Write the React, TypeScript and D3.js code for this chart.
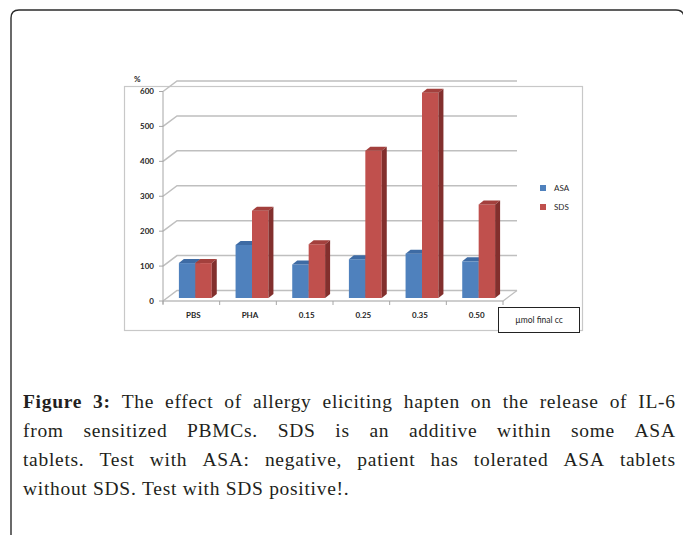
import React from 'react';
import * as d3 from 'd3';

const categories = ['PBS', 'PHA', '0.15', '0.25', '0.35', '0.50'];
const seriesNames = ['ASA', 'SDS'];
const asaValues = [100, 152, 96, 111, 127, 105];
const sdsValues = [100, 250, 154, 422, 588, 268];
const yTicks = [0, 100, 200, 300, 400, 500, 600];
const xUnitLabel = 'µmol final cc';
const yUnitLabel = '%';

const captionLines: { text: string; bold?: boolean }[][] = [
  [{ text: 'Figure 3:', bold: true }, { text: 'The effect of allergy eliciting hapten on the release of IL-6' }],
  [{ text: 'from sensitized PBMCs. SDS is an additive within some ASA' }],
  [{ text: 'tablets. Test with ASA: negative, patient has tolerated ASA tablets' }],
  [{ text: 'without SDS. Test with SDS positive!.' }],
];

const W = 683;
const H = 535;
const SERIF = "'Liberation Serif', 'DejaVu Serif', serif";
const SANS = "Lato, 'Liberation Sans', Arial, sans-serif";

const colors = {
  ASA: { front: '#4F81BD', top: '#3E6BA4', side: '#30537F' },
  SDS: { front: '#C0504D', top: '#A3403D', side: '#822F2D' },
} as Record<string, { front: string; top: string; side: string }>;

let measureCtx: CanvasRenderingContext2D | null = null;
function measure(text: string, font: string): number {
  if (!measureCtx) {
    const c = document.createElement('canvas');
    measureCtx = c.getContext('2d');
  }
  if (!measureCtx) return text.length * 8;
  measureCtx.font = font;
  return measureCtx.measureText(text).width;
}

function Caption() {
  const fontSize = 19.5;
  const ls = 0.7;
  const left = 23;
  const right = 675;
  const baselines = [408, 437, 466, 495];
  return (
    <g fontFamily={SERIF} fontSize={fontSize} fill="#231f20" letterSpacing={ls}>
      {captionLines.map((segs, li) => {
        const words: { w: string; bold: boolean }[] = [];
        segs.forEach((s) => s.text.split(' ').forEach((w) => words.push({ w, bold: !!s.bold })));
        const widths = words.map(
          (wd) => measure(wd.w, `${wd.bold ? 'bold ' : ''}${fontSize}px ${SERIF}`) + wd.w.length * ls
        );
        const total = d3.sum(widths);
        const justify = li < captionLines.length - 1;
        const spaceW = measure(' ', `${fontSize}px ${SERIF}`) + ls;
        const gap = justify ? (right - left - total + ls) / (words.length - 1) : spaceW;
        let x = left;
        const xs: number[] = [];
        widths.forEach((w) => {
          xs.push(x);
          x += w + gap;
        });
        return (
          <text key={li} y={baselines[li]}>
            {words.map((wd, i) => (
              <tspan key={i} x={xs[i]} fontWeight={wd.bold ? 'bold' : 'normal'}>
                {wd.w}
              </tspan>
            ))}
          </text>
        );
      })}
    </g>
  );
}

export default function App() {
  const frontX0 = 163;
  const frontX1 = 503;
  const wallDx = 14;
  const wallDy = -10.5;
  const barOffX = 4;
  const barOffY = -3;
  const barDx = 5;
  const barDy = -4;

  const x = d3.scaleBand<string>().domain(categories).range([frontX0, frontX1]).paddingInner(0.42).paddingOuter(0.21);
  const xInner = d3.scaleBand<string>().domain(seriesNames).range([0, x.bandwidth()]);
  const y = d3.scaleLinear().domain([0, 600]).range([301, 91.5]);
  const step = x.step();
  const boundaries = d3.range(categories.length + 1).map((i) => frontX0 + i * step);

  const grid = '#BFBFBF';
  const axisCol = '#A6A6A6';

  const seriesValues: Record<string, number[]> = { ASA: asaValues, SDS: sdsValues };

  return (
    <svg
      width={W}
      height={H}
      style={{ position: 'fixed', left: 0, top: 0, background: '#fff' }}
    >
      {/* outer figure frame */}
      <path d="M11,545 V18 Q11,10 19,10 H676 Q684,10 684,18 V545" fill="none" stroke="#2b2b2b" strokeWidth={1.4} />

      {/* chart area border */}
      <rect x={124.5} y={86.5} width={458} height={244} fill="#fff" stroke="#C8C8C8" strokeWidth={1.2} />

      {/* gridlines on back wall with side wall diagonals */}
      {yTicks.map((t) => (
        <path
          key={t}
          d={`M${frontX0},${y(t)} L${frontX0 + wallDx},${y(t) + wallDy} H${frontX1 + wallDx}`}
          fill="none"
          stroke={grid}
          strokeWidth={1.5}
        />
      ))}
      {/* floor front edge */}
      <path
        d={`M${frontX0},${y(0)} H${frontX1} L${frontX1 + wallDx},${y(0) + wallDy}`}
        fill="none"
        stroke={grid}
        strokeWidth={1.3}
      />
      {/* vertical axis */}
      <line x1={frontX0} x2={frontX0} y1={y(600)} y2={y(0) + 3} stroke={axisCol} strokeWidth={1} />
      {yTicks.map((t) => (
        <line key={t} x1={frontX0 - 4} x2={frontX0} y1={y(t)} y2={y(t)} stroke={axisCol} strokeWidth={1} />
      ))}
      {/* category ticks */}
      {boundaries.map((bx, i) => (
        <line key={i} x1={bx} x2={bx} y1={y(0)} y2={y(0) + 4} stroke={axisCol} strokeWidth={1} />
      ))}

      {/* bars */}
      {categories.map((c, ci) => (
        <g key={c}>
          {seriesNames.map((s) => {
            const v = seriesValues[s][ci];
            const bx = (x(c) as number) + (xInner(s) as number) + barOffX;
            const bw = xInner.bandwidth();
            const yt = y(v) + barOffY;
            const yb = y(0) + barOffY;
            const col = colors[s];
            return (
              <g key={s}>
                <rect x={bx} y={yt} width={bw} height={yb - yt} fill={col.front} />
                <path
                  d={`M${bx},${yt} L${bx + bw},${yt} L${bx + bw + barDx},${yt + barDy} L${bx + barDx},${yt + barDy} Z`}
                  fill={col.top}
                />
                <path
                  d={`M${bx + bw},${yt} L${bx + bw + barDx},${yt + barDy} L${bx + bw + barDx},${yb + barDy} L${bx + bw},${yb} Z`}
                  fill={col.side}
                />
              </g>
            );
          })}
        </g>
      ))}

      {/* y tick labels */}
      <g fontFamily={SANS} fontSize={8} fontWeight="bold" fill="#262626">
        {yTicks.map((t) => (
          <text key={t} x={154} y={y(t)} dy="0.35em" textAnchor="end">
            {t}
          </text>
        ))}
        <text x={134} y={82}>
          {yUnitLabel}
        </text>
        {categories.map((c) => (
          <text key={c} x={(x(c) as number) + x.bandwidth() / 2 + 2} y={318} textAnchor="middle">
            {c}
          </text>
        ))}
      </g>

      {/* legend */}
      <g fontFamily={SANS} fontSize={8} fill="#262626">
        {seriesNames.map((s, i) => (
          <g key={s} transform={`translate(540,${185 + i * 19})`}>
            <rect x={0} y={0} width={6} height={6} fill={colors[s].front} />
            <text x={14} y={3} dy="0.35em">
              {s}
            </text>
          </g>
        ))}
      </g>

      {/* unit box */}
      <rect x={498.5} y={307.5} width={81} height={25} fill="#fff" stroke="#222" strokeWidth={1} />
      <text x={539} y={320} dy="0.35em" textAnchor="middle" fontFamily={SANS} fontSize={8.5} fill="#262626">
        {xUnitLabel}
      </text>

      <Caption />
    </svg>
  );
}
